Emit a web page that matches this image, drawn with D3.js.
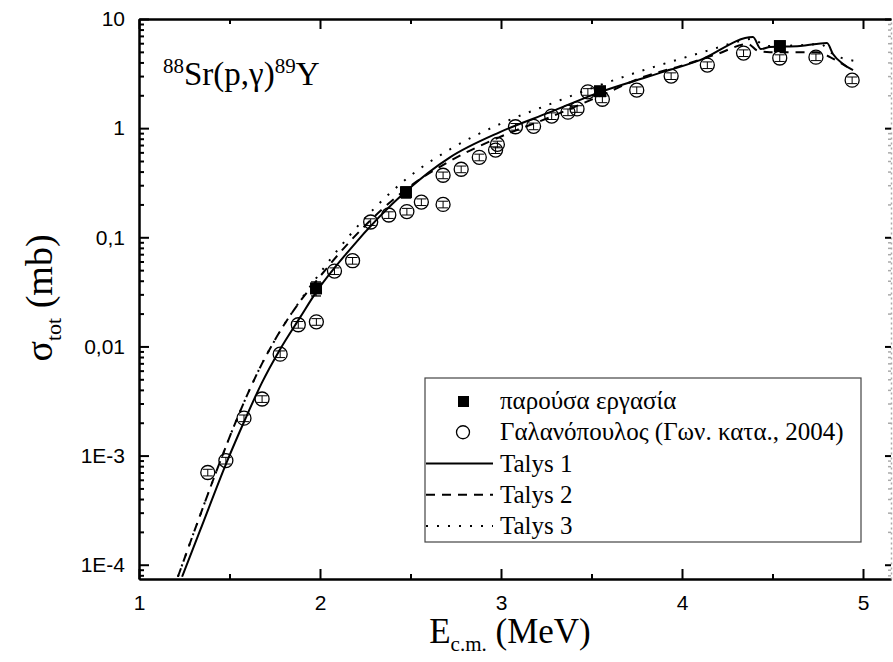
<!DOCTYPE html>
<html>
<head>
<meta charset="utf-8">
<script src="https://cdn.jsdelivr.net/npm/d3@7"></script>
<style>
  body { margin: 0; background: #fff; }
  svg { display: block; }
  .tick text { font-family: "Liberation Sans", Arial, sans-serif; font-size: 21px; fill: #000; }
</style>
</head>
<body>
<div id="chart"></div>
<script>
// ---- data ----
const talys1E = [1.238, 1.337, 1.486, 1.586, 1.680, 1.779, 1.890, 1.978, 2.166, 2.475, 2.718, 2.994, 3.271, 3.547, 3.823, 4.099, 4.392, 4.436, 4.486, 4.652, 4.801, 4.834, 4.890, 4.945];
const talys1S = [7.76e-5, 2.05e-4, 8.81e-4, 2.14e-3, 4.68e-3, 9.38e-3, 0.01845, 0.0313, 0.0776, 0.264, 0.54, 0.92, 1.40, 2.14, 3.0, 4.2, 6.84, 5.3, 5.53, 5.65, 6.03, 4.78, 3.87, 3.40];

const talys2E = [1.215, 1.337, 1.448, 1.558, 1.669, 1.779, 1.890, 1.978, 2.166, 2.475, 2.718, 2.994, 3.271, 3.547, 3.785, 3.989, 4.193, 4.365, 4.420, 4.486, 4.746, 4.818, 4.912];
const talys2S = [7.76e-5, 2.82e-4, 8.81e-4, 2.53e-3, 6.42e-3, 0.01374, 0.0259, 0.0395, 0.0918, 0.275, 0.50, 0.83, 1.26, 1.97, 2.94, 3.7, 4.77, 5.9, 5.1, 4.97, 4.97, 4.48, 3.63];

const talys3E = [1.215, 1.337, 1.448, 1.558, 1.669, 1.779, 1.890, 1.978, 2.166, 2.475, 2.718, 2.994, 3.271, 3.547, 3.807, 3.989, 4.171, 4.320, 4.387, 4.470, 4.669, 4.762, 4.834, 4.956];
const talys3S = [7.76e-5, 2.82e-4, 8.81e-4, 2.53e-3, 6.42e-3, 0.01374, 0.0262, 0.042, 0.105, 0.34, 0.64, 1.09, 1.66, 2.48, 3.48, 4.3, 5.3, 6.28, 6.56, 5.65, 5.77, 5.9, 4.78, 4.12];

// present work (filled squares)
const presentE = [1.978, 2.475, 3.547, 4.541];
const presentS = [0.034, 0.259, 2.18, 5.65];
const presentErr = [0.005, 0.03, 0.2, 0.6];

// Galanopoulos 2004 (open circles)
const galanE = [1.38, 1.48, 1.58, 1.68, 1.78, 1.88, 1.98, 2.08, 2.18, 2.28, 2.38, 2.48, 2.56, 2.68, 2.68, 2.78, 2.88, 2.97, 2.98, 3.08, 3.18, 3.28, 3.37, 3.42, 3.48, 3.56, 3.75, 3.94, 4.14, 4.34, 4.54, 4.74, 4.94];
const galanS = [7.0e-4, 9.0e-4, 2.2e-3, 3.3e-3, 8.5e-3, 0.0158, 0.0168, 0.049, 0.061, 0.138, 0.160, 0.172, 0.21, 0.37, 0.20, 0.42, 0.54, 0.63, 0.71, 1.03, 1.04, 1.29, 1.40, 1.50, 2.15, 1.84, 2.23, 3.0, 3.78, 4.87, 4.39, 4.47, 2.75];

const xTicks = [1, 2, 3, 4, 5];
const xMinor = [1.5, 2.5, 3.5, 4.5];
const yTicks = [1e-4, 1e-3, 0.01, 0.1, 1, 10];
const yTickLabels = ["1E-4", "1E-3", "0,01", "0,1", "1", "10"];

const legendLabels = ["παρούσα εργασία", "Γαλανόπουλος (Γων. κατα., 2004)", "Talys 1", "Talys 2", "Talys 3"];

// ---- layout ----
const W = 893, H = 662;
const M = { left: 139, right: 891, top: 19, bottom: 579 };
const SERIF = "'Liberation Serif', 'Times New Roman', serif";

const svg = d3.select("#chart").append("svg").attr("width", W).attr("height", H);

const x = d3.scaleLinear().domain([1, 1 + (M.right - M.left) / 181]).range([M.left, M.right]);
const y = d3.scaleLog().domain([7.4e-5, 10]).range([M.bottom, M.top]);

// minor log ticks 2..9 per decade
const yMinor = [];
for (let e = -5; e <= 0; e++)
    for (let m = 2; m <= 9; m++) {
        const v = m * Math.pow(10, e);
        if (v >= y.domain()[0] && v <= 10) yMinor.push(v);
    }

svg.append("clipPath").attr("id", "clip")
    .append("rect").attr("x", M.left).attr("y", M.top)
    .attr("width", M.right - M.left).attr("height", M.bottom - M.top);

// ---- axes ----
function styleAxis(g) {
    g.selectAll(".domain").attr("stroke", "#000").attr("stroke-width", 2);
    g.selectAll(".tick line").attr("stroke", "#000").attr("stroke-width", 2);
}

svg.append("g").attr("transform", `translate(0,${M.bottom})`)
    .call(d3.axisBottom(x).tickValues(xTicks).tickSize(-10).tickSizeOuter(0).tickPadding(16).tickFormat(d3.format("d")))
    .call(styleAxis);
svg.append("g").attr("transform", `translate(0,${M.bottom})`)
    .call(d3.axisBottom(x).tickValues(xMinor).tickSize(-5).tickSizeOuter(0).tickFormat(""))
    .call(styleAxis);

svg.append("g").attr("transform", `translate(0,${M.top})`)
    .call(d3.axisTop(x).tickValues(xTicks).tickSize(-10).tickSizeOuter(0).tickFormat(""))
    .call(styleAxis);
svg.append("g").attr("transform", `translate(0,${M.top})`)
    .call(d3.axisTop(x).tickValues(xMinor).tickSize(-5).tickSizeOuter(0).tickFormat(""))
    .call(styleAxis);

svg.append("g").attr("transform", `translate(${M.left},0)`)
    .call(d3.axisLeft(y).tickValues(yTicks).tickSize(-10).tickSizeOuter(0).tickPadding(14)
        .tickFormat((d, i) => yTickLabels[i]))
    .call(styleAxis);
svg.append("g").attr("transform", `translate(${M.left},0)`)
    .call(d3.axisLeft(y).tickValues(yMinor).tickSize(-5).tickSizeOuter(0).tickFormat(""))
    .call(styleAxis);

// right axis is cut at the picture edge, faint dotted
const gr = svg.append("g").attr("transform", `translate(${M.right},0)`)
    .call(d3.axisRight(y).tickValues(yTicks).tickSize(-6).tickSizeOuter(0).tickFormat(""));
gr.selectAll(".tick line").attr("stroke", "#000").attr("stroke-width", 2);
gr.select(".domain").attr("stroke", "#aaa").attr("stroke-width", 1.5).attr("stroke-dasharray", "2,3");
svg.append("g").attr("transform", `translate(${M.right},0)`)
    .call(d3.axisRight(y).tickValues(yMinor).tickSize(-3).tickSizeOuter(0).tickFormat(""))
    .call(g => g.select(".domain").remove())
    .call(g => g.selectAll(".tick line").attr("stroke", "#aaa").attr("stroke-width", 1.5));

// ---- curves ----
const line = d3.line().x(d => x(d[0])).y(d => y(d[1])).curve(d3.curveMonotoneX);
const plot = svg.append("g").attr("clip-path", "url(#clip)");

const curves = [
    { E: talys1E, S: talys1S, dash: null },
    { E: talys2E, S: talys2S, dash: "9,7" },
    { E: talys3E, S: talys3S, dash: "2,9" }
];
curves.forEach(c => {
    plot.append("path")
        .datum(c.E.map((e, i) => [e, c.S[i]]))
        .attr("d", line)
        .attr("fill", "none")
        .attr("stroke", "#000")
        .attr("stroke-width", 2)
        .attr("stroke-dasharray", c.dash);
});

// ---- Galanopoulos circles with small error bars ----
const galan = galanE.map((e, i) => [e, galanS[i]]);
const gc = plot.append("g");
galan.forEach(d => {
    const cx = x(d[0]), lo = y(d[1] * 0.93), hi = y(d[1] * 1.07);
    gc.append("line").attr("x1", cx).attr("x2", cx).attr("y1", lo).attr("y2", hi).attr("stroke", "#000");
    gc.append("line").attr("x1", cx - 5).attr("x2", cx + 5).attr("y1", lo).attr("y2", lo).attr("stroke", "#000");
    gc.append("line").attr("x1", cx - 5).attr("x2", cx + 5).attr("y1", hi).attr("y2", hi).attr("stroke", "#000");
});
gc.selectAll("circle").data(galan).join("circle")
    .attr("cx", d => x(d[0])).attr("cy", d => y(d[1])).attr("r", 7)
    .attr("fill", "none").attr("stroke", "#000").attr("stroke-width", 1.3);

// ---- present work squares ----
const present = presentE.map((e, i) => [e, presentS[i], presentErr[i]]);
const gp = plot.append("g");
present.forEach(d => {
    const cx = x(d[0]), lo = y(d[1] - d[2]), hi = y(d[1] + d[2]);
    gp.append("line").attr("x1", cx).attr("x2", cx).attr("y1", lo).attr("y2", hi).attr("stroke", "#000").attr("stroke-width", 1.3);
    gp.append("line").attr("x1", cx - 5).attr("x2", cx + 5).attr("y1", lo).attr("y2", lo).attr("stroke", "#000").attr("stroke-width", 1.3);
    gp.append("line").attr("x1", cx - 5).attr("x2", cx + 5).attr("y1", hi).attr("y2", hi).attr("stroke", "#000").attr("stroke-width", 1.3);
});
gp.selectAll("rect").data(present).join("rect")
    .attr("x", d => x(d[0]) - 6).attr("y", d => y(d[1]) - 6)
    .attr("width", 12).attr("height", 12).attr("fill", "#000");

// ---- texts ----
const reaction = svg.append("text").attr("font-family", SERIF).attr("x", 163).attr("y", 85).attr("font-size", 33);
reaction.append("tspan").attr("font-size", 21).attr("dy", -12).text("88");
reaction.append("tspan").attr("dy", 12).text("Sr(p,γ)");
reaction.append("tspan").attr("font-size", 21).attr("dy", -12).text("89");
reaction.append("tspan").attr("dy", 12).text("Y");

const xt = svg.append("text").attr("font-family", SERIF).attr("x", 510).attr("y", 643)
    .attr("text-anchor", "middle").attr("font-size", 35);
xt.append("tspan").text("E");
xt.append("tspan").attr("font-size", 21).attr("dy", 8).text("c.m.");
xt.append("tspan").attr("dy", -8).text(" (MeV)");

const yt = svg.append("text").attr("font-family", SERIF)
    .attr("transform", "translate(52,298) rotate(-90)")
    .attr("text-anchor", "middle").attr("font-size", 38);
yt.append("tspan").text("σ");
yt.append("tspan").attr("font-size", 22).attr("dy", 9).text("tot");
yt.append("tspan").attr("dy", -9).text(" (mb)");

// ---- legend ----
const lg = svg.append("g");
lg.append("rect").attr("x", 425).attr("y", 378).attr("width", 436).attr("height", 164)
    .attr("fill", "#fff").attr("stroke", "#444").attr("stroke-width", 1.2);
const rowY = d3.scalePoint().domain(d3.range(legendLabels.length)).range([401, 526]);
legendLabels.forEach((t, i) => {
    const cy = rowY(i);
    if (i === 0) lg.append("rect").attr("x", 458).attr("y", cy - 5).attr("width", 11).attr("height", 11).attr("fill", "#000");
    else if (i === 1) lg.append("circle").attr("cx", 463).attr("cy", cy).attr("r", 6.5).attr("fill", "none").attr("stroke", "#000").attr("stroke-width", 1.3);
    else lg.append("line").attr("x1", 426).attr("x2", 493).attr("y1", cy).attr("y2", cy)
        .attr("stroke", "#000").attr("stroke-width", 2).attr("stroke-dasharray", curves[i - 2].dash);
    lg.append("text").attr("font-family", SERIF).attr("x", 500).attr("y", cy + 8)
        .attr("font-size", 25).text(t);
});
</script>
</body>
</html>
